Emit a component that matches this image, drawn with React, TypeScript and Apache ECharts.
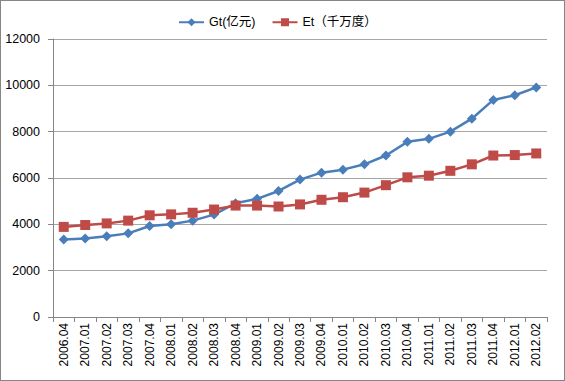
import React, { useEffect, useRef } from "react";
import * as echarts from "echarts";

const categories = ["2006.04","2007.01","2007.02","2007.03","2007.04","2008.01","2008.02","2008.03","2008.04","2009.01","2009.02","2009.03","2009.04","2010.01","2010.02","2010.03","2010.04","2011.01","2011.02","2011.03","2011.04","2012.01","2012.02"];
const gtValues = [3350,3390,3490,3610,3930,4000,4160,4420,4910,5100,5440,5930,6230,6360,6590,6970,7560,7690,8000,8560,9370,9570,9910];
const etValues = [3890,3970,4040,4160,4390,4430,4500,4640,4810,4810,4770,4860,5060,5170,5370,5690,6030,6100,6310,6590,6970,6990,7060];
const gtName = "Gt(亿元)";
const etName = "Et（千万度）";

export default function App() {
  const ref = useRef<HTMLDivElement>(null);
  useEffect(() => {
    if (!ref.current) return;
    const chart = echarts.init(ref.current, null, { renderer: "svg" });
    const font = "Liberation Sans, Arial, Noto Sans CJK SC, sans-serif";
    chart.setOption({
      animation: false,
      backgroundColor: "#ffffff",
      textStyle: { fontFamily: font },
      legend: {
        top: 10,
        left: 172,
        itemWidth: 25,
        itemHeight: 10,
        itemGap: 16,
        textStyle: { fontSize: 12.5, color: "#000", fontFamily: font },
        data: [gtName, etName],
      },
      grid: { left: 52, right: 17, top: 38, bottom: 63 },
      xAxis: {
        type: "category",
        data: categories,
        boundaryGap: true,
        axisLine: { lineStyle: { color: "#868686", width: 1 } },
        axisTick: { show: true, alignWithLabel: false, length: 5, lineStyle: { color: "#868686" } },
        axisLabel: { rotate: 90, fontSize: 12, color: "#000", margin: 6, interval: 0, fontFamily: font },
      },
      yAxis: {
        type: "value",
        min: 0,
        max: 12000,
        interval: 2000,
        axisLine: { show: true, lineStyle: { color: "#868686" } },
        axisTick: { show: true, length: 5, lineStyle: { color: "#868686" } },
        axisLabel: { fontSize: 12.5, color: "#000", margin: 13, fontFamily: font, formatter: (v: number) => String(v) },
        splitLine: { lineStyle: { color: "#a6a6a6", width: 1 } },
      },
      series: [
        {
          name: gtName,
          type: "line",
          data: gtValues,
          symbol: "diamond",
          symbolSize: 10,
          itemStyle: { color: "#4a7ebb" },
          lineStyle: { color: "#4a7ebb", width: 2.5 },
        },
        {
          name: etName,
          type: "line",
          data: etValues,
          symbol: "rect",
          symbolSize: 10,
          itemStyle: { color: "#be4b48" },
          lineStyle: { color: "#be4b48", width: 2.5 },
        },
      ],
    });
    return () => chart.dispose();
  }, []);
  return (
    <div
      ref={ref}
      style={{
        position: "fixed",
        left: 0,
        top: 0,
        width: 565,
        height: 381,
        boxSizing: "border-box",
        border: "1px solid #868686",
      }}
    />
  );
}
